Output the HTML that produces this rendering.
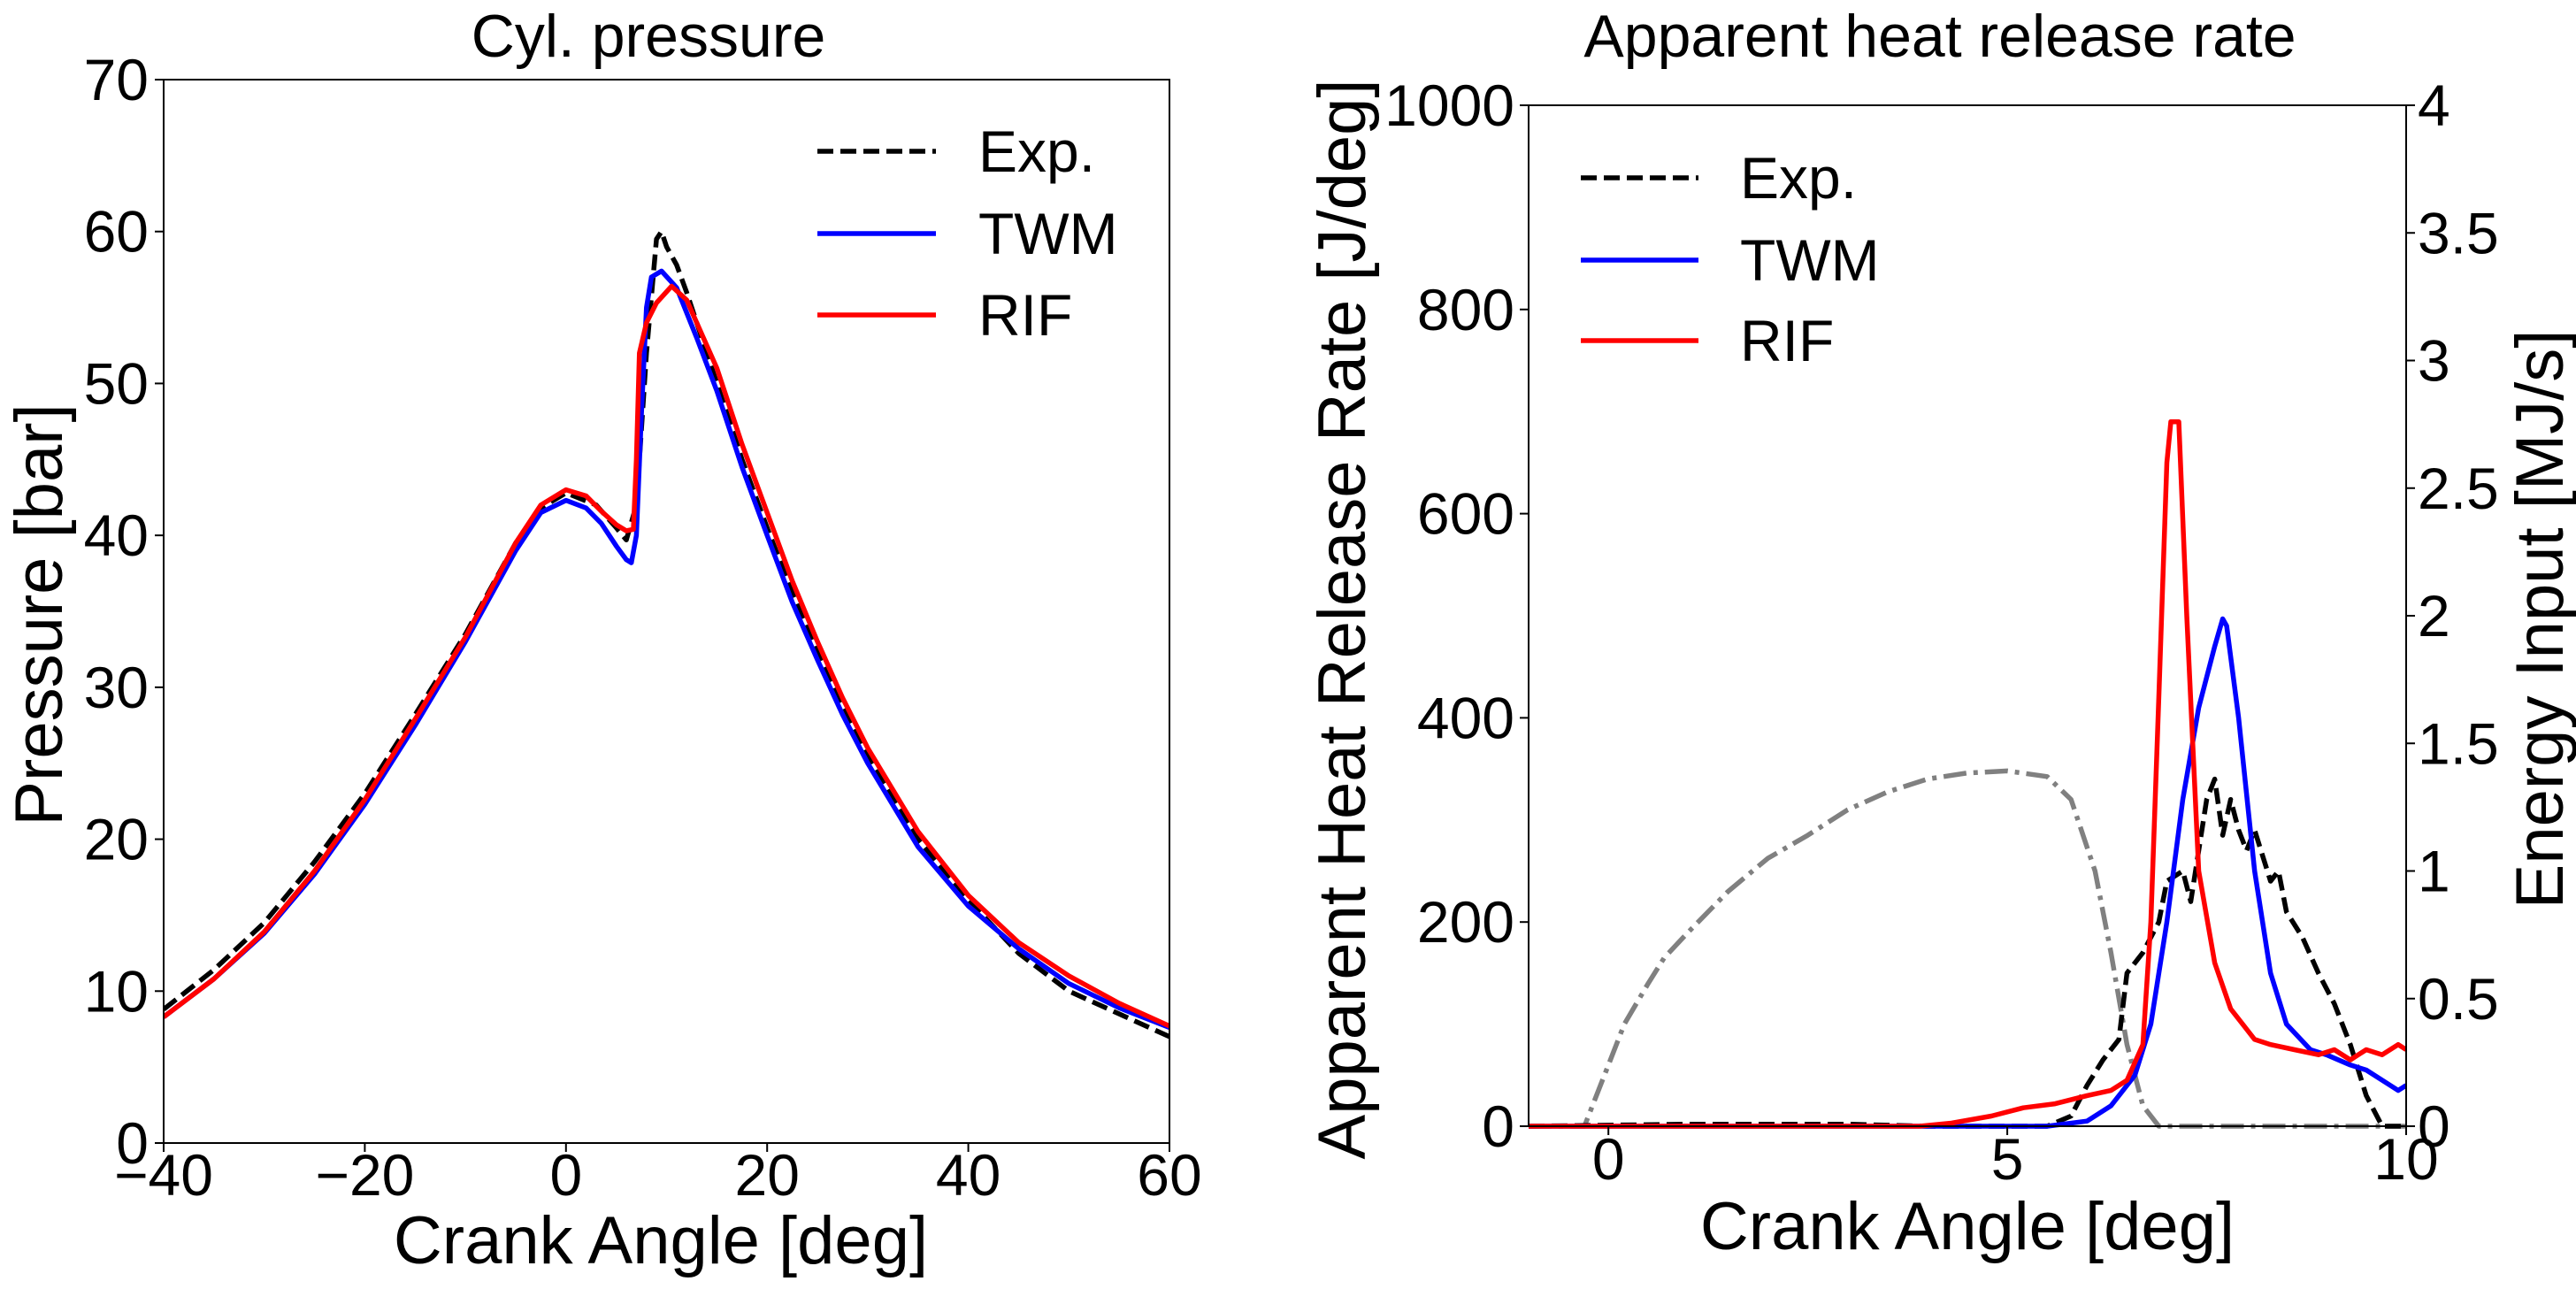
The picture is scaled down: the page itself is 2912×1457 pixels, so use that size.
<!DOCTYPE html>
<html><head><meta charset="utf-8"><style>
html,body{margin:0;padding:0;background:#fff;}
svg{display:block;font-family:"Liberation Sans",sans-serif;}
</style></head><body>
<svg id="c" width="2912" height="1457" viewBox="0 0 2912 1457" xmlns="http://www.w3.org/2000/svg"></svg>
<script>
// ---- Left chart data: cylinder pressure ----
const expX=[-40,-35,-30,-25,-20,-15,-10,-5,-2.5,0,3,5,6,7,8,9,9.5,10,11,12,15,17.5,20,22.5,25,27.5,30,35,40,45,50,55,60];
const expP=[8.8,11.4,14.5,18.5,23,28.2,33.5,39.5,41.8,42.8,42,40.5,39.7,42,52,59.5,60,59,57.8,56,50,45,40.5,36.2,32.3,28.7,25.5,20,16,12.5,10,8.5,7];
const twmX=[-40,-35,-30,-25,-20,-15,-10,-5,-2.5,0,2,3.5,5,6,6.5,7,7.5,8,8.5,9.5,11,13,15,17.5,20,22.5,25,27.5,30,35,40,45,50,55,60];
const twmP=[8.3,10.8,13.8,17.7,22.3,27.5,33,39,41.5,42.3,41.8,40.8,39.3,38.4,38.2,40,48,55,57,57.4,56.3,53,49.5,44.5,40,35.6,31.8,28.2,25,19.5,15.6,12.8,10.5,8.9,7.6];
const rifX=[-40,-35,-30,-25,-20,-15,-10,-5,-2.5,0,2,3.5,5,6,6.7,7,7.3,8,9,10.5,12,15,17.5,20,22.5,25,27.5,30,35,40,45,50,55,60];
const rifP=[8.3,10.8,13.9,17.9,22.6,27.9,33.3,39.5,42,43,42.6,41.6,40.7,40.3,40.4,45,52,54,55.3,56.4,55.5,51,46,41.5,37,33,29.3,26,20.5,16.3,13.2,11,9.2,7.7];
const leftXTicks=[-40,-20,0,20,40,60];
const leftYTicks=[0,10,20,30,40,50,60,70];
// ---- Right chart data: heat release ----
const eiX=[-1,-0.3,0,0.2,0.5,0.7,1,1.5,2,2.5,3,3.5,4,4.5,5,5.5,5.8,6.1,6.3,6.5,6.7,6.9,10];
const eiV=[0,0,0.24,0.40,0.56,0.66,0.76,0.92,1.05,1.14,1.24,1.31,1.36,1.384,1.392,1.37,1.28,1.0,0.68,0.32,0.08,0,0];
const hExpX=[-1,1,2,3,4,5.5,5.8,6.0,6.2,6.4,6.5,6.7,6.9,7.0,7.2,7.3,7.5,7.6,7.7,7.8,7.9,8.0,8.1,8.3,8.4,8.5,8.7,8.9,9.1,9.3,9.5,9.7,10];
const hExpV=[0,2,2,2,0,0,10,40,65,85,150,170,200,240,250,220,320,340,285,320,290,270,290,240,250,210,185,150,120,80,30,0,0];
const hTwmX=[-1,5.5,6.0,6.3,6.6,6.8,7.0,7.2,7.4,7.6,7.7,7.75,7.9,8.1,8.3,8.5,8.8,9.0,9.3,9.5,9.8,9.9,10];
const hTwmV=[0,0,5,20,50,100,200,320,410,470,497,490,400,250,150,100,75,70,60,55,40,35,40];
const hRifX=[-1,3.9,4.3,4.8,5.2,5.6,6.0,6.3,6.5,6.7,6.8,6.9,7.0,7.05,7.15,7.25,7.4,7.6,7.8,8.1,8.3,8.6,8.9,9.1,9.3,9.5,9.7,9.9,10];
const hRifV=[0,0,3,10,18,22,30,35,45,80,200,420,650,690,690,500,250,160,115,85,80,75,70,75,65,75,70,80,75];
const rXTicks=[0,5,10];
const rYTicks=[0,200,400,600,800,1000];
const rY2Ticks=['0','0.5','1','1.5','2','2.5','3','3.5','4'];

const svg=document.getElementById('c');
const NS='http://www.w3.org/2000/svg';
function mk(tag,attrs,name,txt,parent){const e=document.createElementNS(NS,tag);for(const k in attrs)e.setAttribute(k,attrs[k]);


if(txt!==undefined)e.textContent=txt;(parent||svg).appendChild(e);return e;}
function path(xs,ys,fx,fy){return xs.map((x,i)=>(i?'L':'M')+fx(x).toFixed(1)+' '+fy(ys[i]).toFixed(1)).join(' ');}
const LW=5.5;
// Left axes
const L={x0:185,x1:1322,y0:90,y1:1292};
const lx=v=>L.x0+(v+40)/100*(L.x1-L.x0);
const ly=v=>L.y1-v/70*(L.y1-L.y0);
const cl=mk('clipPath',{id:'clL'},'left-clip');
mk('rect',{x:L.x0,y:L.y0,width:L.x1-L.x0,height:L.y1-L.y0},'left-clip-rect',undefined,cl);
mk('path',{d:path(expX,expP,lx,ly),fill:'none',stroke:'#000','stroke-width':LW,'stroke-dasharray':'18,8','clip-path':'url(#clL)','stroke-linejoin':'round'},'exp-pressure-line');
mk('path',{d:path(twmX,twmP,lx,ly),fill:'none',stroke:'#0000ff','stroke-width':LW,'clip-path':'url(#clL)','stroke-linejoin':'round'},'twm-pressure-line');
mk('path',{d:path(rifX,rifP,lx,ly),fill:'none',stroke:'#ff0000','stroke-width':LW,'clip-path':'url(#clL)','stroke-linejoin':'round'},'rif-pressure-line');
mk('rect',{x:L.x0,y:L.y0,width:L.x1-L.x0,height:L.y1-L.y0,fill:'none',stroke:'#000','stroke-width':2},'left-plot-frame');
leftXTicks.forEach(t=>{mk('line',{x1:lx(t),x2:lx(t),y1:L.y1,y2:L.y1+10,stroke:'#000','stroke-width':2},'left-x-tick');
mk('text',{x:lx(t),y:1351,'font-size':66,'text-anchor':'middle'},'left-x-tick-label',(t<0?'\u2212':'')+Math.abs(t));});
leftYTicks.forEach(t=>{mk('line',{x1:L.x0-10,x2:L.x0,y1:ly(t),y2:ly(t),stroke:'#000','stroke-width':2},'left-y-tick');
mk('text',{x:168,y:ly(t)+23,'font-size':66,'text-anchor':'end'},'left-y-tick-label',t);});
mk('text',{x:733,y:64,'font-size':68,'text-anchor':'middle'},'left-title','Cyl. pressure');
mk('text',{x:747,y:1428,'font-size':76,'text-anchor':'middle'},'left-x-axis-title','Crank Angle [deg]');
mk('text',{x:0,y:0,'font-size':76,'text-anchor':'middle',transform:'translate(70,695) rotate(-90)'},'left-y-axis-title','Pressure [bar]');
[['Exp.','#000','18,8',171],['TWM','#0000ff','',264],['RIF','#ff0000','',356]].forEach(r=>{
const a={x1:924,x2:1058,y1:r[3],y2:r[3],stroke:r[1],'stroke-width':LW};if(r[2])a['stroke-dasharray']=r[2];
mk('line',a,'left-legend-line-'+r[0].toLowerCase().replace('.',''));
mk('text',{x:1106,y:r[3]+23,'font-size':66},'left-legend-label-'+r[0].toLowerCase().replace('.',''),r[0]);});

// Right axes
const R={x0:1728,x1:2720,y0:119,y1:1273};
const rx=v=>R.x0+(v+1)/11*(R.x1-R.x0);
const ry=v=>R.y1-v/1000*(R.y1-R.y0);
const ry2=v=>R.y1-v/4*(R.y1-R.y0);
const cp=mk('clipPath',{id:'clR'},'right-clip');
mk('rect',{x:R.x0,y:R.y0-5,width:R.x1-R.x0,height:R.y1-R.y0+10},'right-clip-rect',undefined,cp);
mk('path',{d:path(eiX,eiV,rx,ry2),fill:'none',stroke:'#808080','stroke-width':LW,'stroke-dasharray':'26,8,5,8','clip-path':'url(#clR)','stroke-linejoin':'round'},'energy-input-line');
mk('path',{d:path(hExpX,hExpV,rx,ry),fill:'none',stroke:'#000','stroke-width':LW,'stroke-dasharray':'18,8','clip-path':'url(#clR)','stroke-linejoin':'round'},'exp-hrr-line');
mk('path',{d:path(hTwmX,hTwmV,rx,ry),fill:'none',stroke:'#0000ff','stroke-width':LW,'clip-path':'url(#clR)','stroke-linejoin':'round'},'twm-hrr-line');
mk('path',{d:path(hRifX,hRifV,rx,ry),fill:'none',stroke:'#ff0000','stroke-width':LW,'clip-path':'url(#clR)','stroke-linejoin':'round'},'rif-hrr-line');
mk('rect',{x:R.x0,y:R.y0,width:R.x1-R.x0,height:R.y1-R.y0,fill:'none',stroke:'#000','stroke-width':2},'right-plot-frame');
rXTicks.forEach(t=>{mk('line',{x1:rx(t),x2:rx(t),y1:R.y1,y2:R.y1+10,stroke:'#000','stroke-width':2},'right-x-tick');
mk('text',{x:rx(t),y:1333,'font-size':66,'text-anchor':'middle'},'right-x-tick-label',t);});
rYTicks.forEach(t=>{mk('line',{x1:R.x0-10,x2:R.x0,y1:ry(t),y2:ry(t),stroke:'#000','stroke-width':2},'right-y-tick');
mk('text',{x:1712,y:ry(t)+23,'font-size':66,'text-anchor':'end'},'right-y-tick-label',t);});
rY2Ticks.forEach(t=>{const v=parseFloat(t);mk('line',{x1:R.x1,x2:R.x1+10,y1:ry2(v),y2:ry2(v),stroke:'#000','stroke-width':2},'right-y2-tick');
mk('text',{x:2733,y:ry2(v)+23,'font-size':66},'right-y2-tick-label',t);});
mk('text',{x:2193,y:64,'font-size':68,'text-anchor':'middle'},'right-title','Apparent heat release rate');
mk('text',{x:2224,y:1412,'font-size':76,'text-anchor':'middle'},'right-x-axis-title','Crank Angle [deg]');
mk('text',{x:0,y:0,'font-size':76,'text-anchor':'middle',transform:'translate(1543,700) rotate(-90)'},'right-y-axis-title','Apparent Heat Release Rate [J/deg]');
mk('text',{x:0,y:0,'font-size':76,'text-anchor':'middle',transform:'translate(2897,700) rotate(-90)'},'right-y2-axis-title','Energy Input [MJ/s]');
[['Exp.','#000','18,8',201],['TWM','#0000ff','',294],['RIF','#ff0000','',385]].forEach(r=>{
const a={x1:1787,x2:1920,y1:r[3],y2:r[3],stroke:r[1],'stroke-width':LW};if(r[2])a['stroke-dasharray']=r[2];
mk('line',a,'right-legend-line-'+r[0].toLowerCase().replace('.',''));
mk('text',{x:1967,y:r[3]+23,'font-size':66},'right-legend-label-'+r[0].toLowerCase().replace('.',''),r[0]);});
</script>
</body></html>
